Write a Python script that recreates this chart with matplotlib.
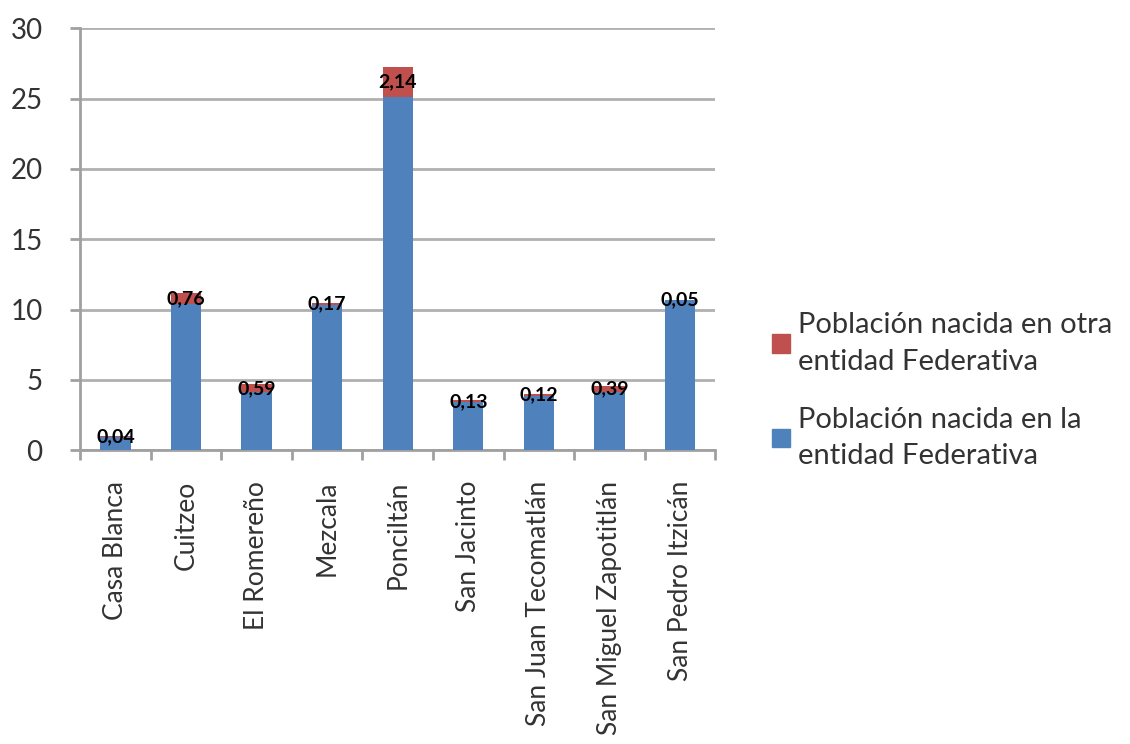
import matplotlib.pyplot as plt
import numpy as np
from matplotlib.patches import Patch

plt.rcParams['font.family'] = ['Lato', 'DejaVu Sans']

localidades = ['Casa Blanca', 'Cuitzeo', 'El Romereño', 'Mezcala', 'Ponciltán',
               'San Jacinto', 'San Juan Tecomatlán', 'San Miguel Zapotitlán',
               'San Pedro Itzicán']
nacida_entidad = [0.96, 10.4, 4.1, 10.3, 25.1, 3.4, 3.85, 4.15, 10.65]
nacida_otra = [0.04, 0.76, 0.59, 0.17, 2.14, 0.13, 0.12, 0.39, 0.05]
etiquetas = ['0,04', '0,76', '0,59', '0,17', '2,14', '0,13', '0,12', '0,39', '0,05']

azul = '#4F81BD'
rojo = '#C0504D'

fig = plt.figure(figsize=(11.3, 7.44), dpi=100)
ax = fig.add_axes([0.071, 0.395, 0.562, 0.567])

x = np.arange(len(localidades))
ax.bar(x, nacida_entidad, width=0.43, color=azul, zorder=3)
ax.bar(x, nacida_otra, width=0.43, bottom=nacida_entidad, color=rojo, zorder=3)

for xi, base, extra, txt in zip(x, nacida_entidad, nacida_otra, etiquetas):
    ax.text(xi, base + extra / 2, txt, ha='center', va='center',
            fontsize=14, fontweight='bold', color='black', zorder=4)

ax.set_xlim(-0.5, len(localidades) - 0.5)
ax.set_ylim(0, 30)
ax.set_yticks(range(0, 31, 5))
ax.yaxis.grid(True, color='#b0b0b0', linewidth=2, zorder=0)
ax.set_axisbelow(True)

ax.set_xticks(x)
ax.set_xticklabels(localidades, rotation=90, fontsize=19, color='#333333')
ax.set_xticks(np.arange(-0.5, len(localidades)), minor=True)
ax.tick_params(axis='x', which='major', length=0, pad=22)
ax.tick_params(axis='x', which='minor', length=7, width=2, color='#a0a0a0')
ax.tick_params(axis='y', labelsize=20, length=7, width=2, color='#a0a0a0',
               labelcolor='#333333', pad=20)

for side in ['top', 'right']:
    ax.spines[side].set_visible(False)
for side in ['left', 'bottom']:
    ax.spines[side].set_color('#a0a0a0')
    ax.spines[side].set_linewidth(2)

handles = [Patch(color=rojo, label='Población nacida en otra\nentidad Federativa'),
           Patch(color=azul, label='Población nacida en la\nentidad Federativa')]
leg = fig.legend(handles=handles, loc='center left', bbox_to_anchor=(0.66, 0.475),
                 frameon=False, fontsize=21, handlelength=0.6, handleheight=0.6,
                 handletextpad=0.3, labelspacing=1.1, labelcolor='#333333')
for t in leg.get_texts():
    t.set_linespacing(1.5)

fig.savefig('out.png', dpi=100)
